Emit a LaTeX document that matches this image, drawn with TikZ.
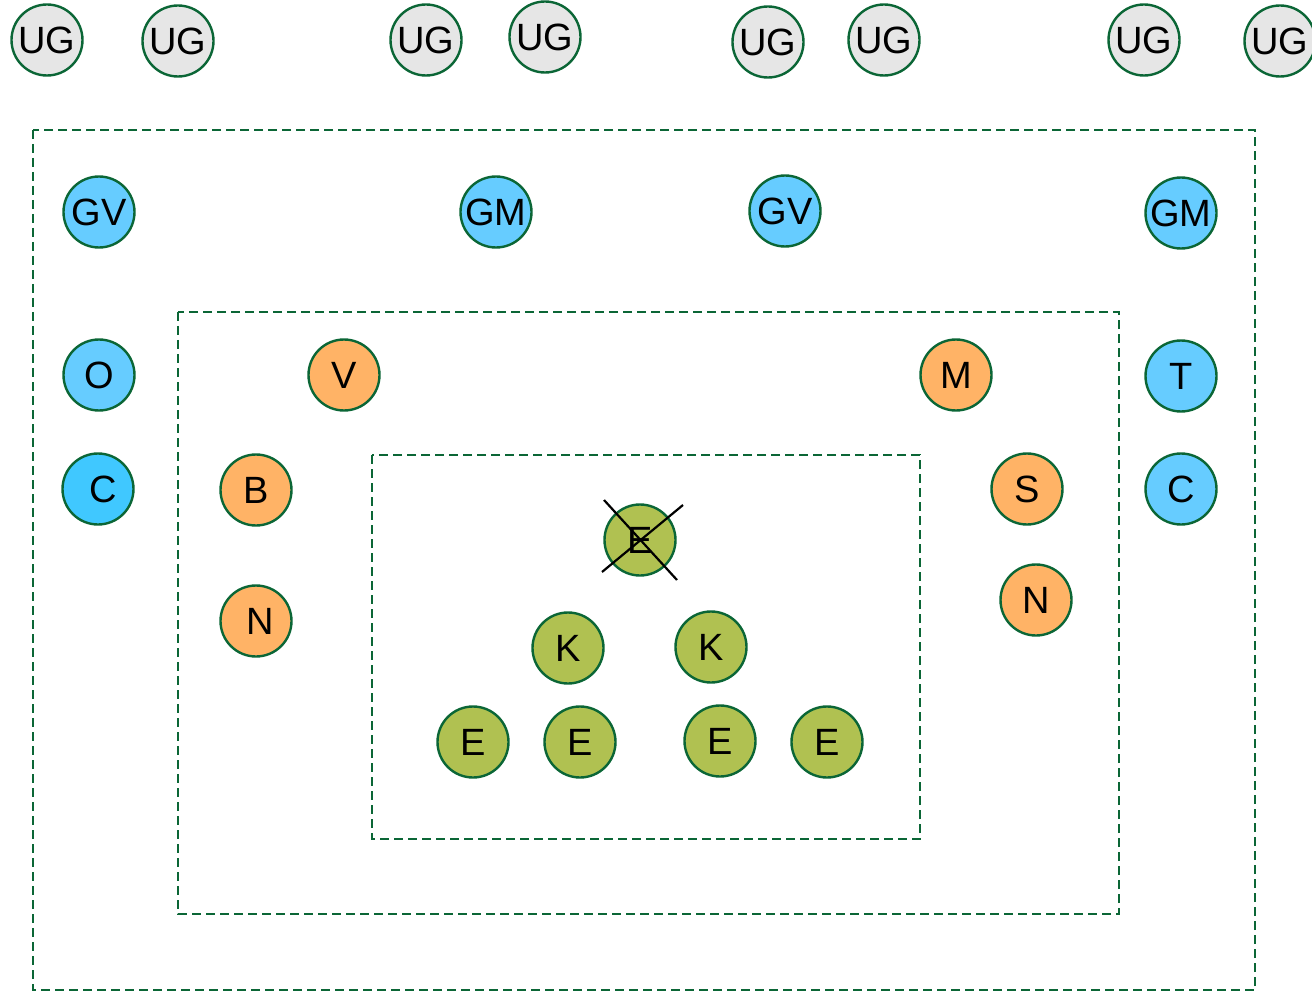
\documentclass[tikz,border=0pt]{standalone}
\usepackage{fontspec}
\setmainfont{Liberation Sans}
\usetikzlibrary{calc}
\definecolor{edge}{HTML}{0B6636}
\definecolor{ugfill}{HTML}{E6E6E6}
\definecolor{bluefill}{HTML}{66CCFF}
\definecolor{cyanfill}{HTML}{40C8FF}
\definecolor{orangefill}{HTML}{FFB366}
\definecolor{greenfill}{HTML}{B0C151}
\tikzset{
  ball/.style={circle, draw=edge, line width=2.4pt, minimum size=71pt, inner sep=0pt,
    font=\fontsize{38}{40}\selectfont, text=black},
  ug/.style={ball, fill=ugfill},
  bl/.style={ball, fill=bluefill},
  cy/.style={ball, fill=cyanfill},
  og/.style={ball, fill=orangefill},
  gr/.style={ball, fill=greenfill},
  zone/.style={draw=edge, line width=2.4pt, dash pattern=on 9pt off 5pt},
  strike/.style={draw=black, line width=2.2pt}
}
\begin{document}
\begin{tikzpicture}[x=1pt, y=-1pt]
\useasboundingbox (0,0) rectangle (1312,992);

% nested zones
\draw[zone] (33,130) rectangle (1255,990);
\draw[zone] (178,312) rectangle (1119,914);
\draw[zone] (372,455) rectangle (920,839);

% top row
\node[ug] (ug1) at (47,40) {UG};
\node[ug] (ug2) at (178,41) {UG};
\node[ug] (ug3) at (426,40) {UG};
\node[ug] (ug4) at (545,37) {UG};
\node[ug] (ug5) at (768,42) {UG};
\node[ug] (ug6) at (884,40) {UG};
\node[ug] (ug7) at (1144,40) {UG};
\node[ug] (ug8) at (1280,41) {UG};

% outer zone
\node[bl] (gv1) at (99,212) {GV};
\node[bl] (gm1) at (496,212) {GM};
\node[bl] (gv2) at (785,211) {GV};
\node[bl] (gm2) at (1181,213) {GM};
\node[bl] (o) at (99,375) {O};
\node[cy] (c1) at (98,489) {\hspace{10pt}C};
\node[bl] (t) at (1181,376) {T};
\node[bl] (c2) at (1181,489) {C};

% middle zone
\node[og] (v) at (344,375) {V};
\node[og] (m) at (956,375) {M};
\node[og] (b) at (256,490) {B};
\node[og] (n1) at (256,621) {\hspace{8pt}N};
\node[og] (s) at (1027,489) {S};
\node[og] (n2) at (1036,600) {N};

% inner zone
\node[gr] (e0) at (640,540) {E};
\node[gr] (k1) at (568,648) {K};
\node[gr] (k2) at (711,647) {K};
\node[gr] (e1) at (473,742) {E};
\node[gr] (e2) at (580,742) {E};
\node[gr] (e3) at (720,741) {E};
\node[gr] (e4) at (827,742) {E};

% struck-out node
\draw[strike] ($(e0)+(-36,-40)$) -- ($(e0)+(37,40)$);
\draw[strike] ($(e0)+(43,-35)$) -- ($(e0)+(-38,32)$);
\end{tikzpicture}
\end{document}
